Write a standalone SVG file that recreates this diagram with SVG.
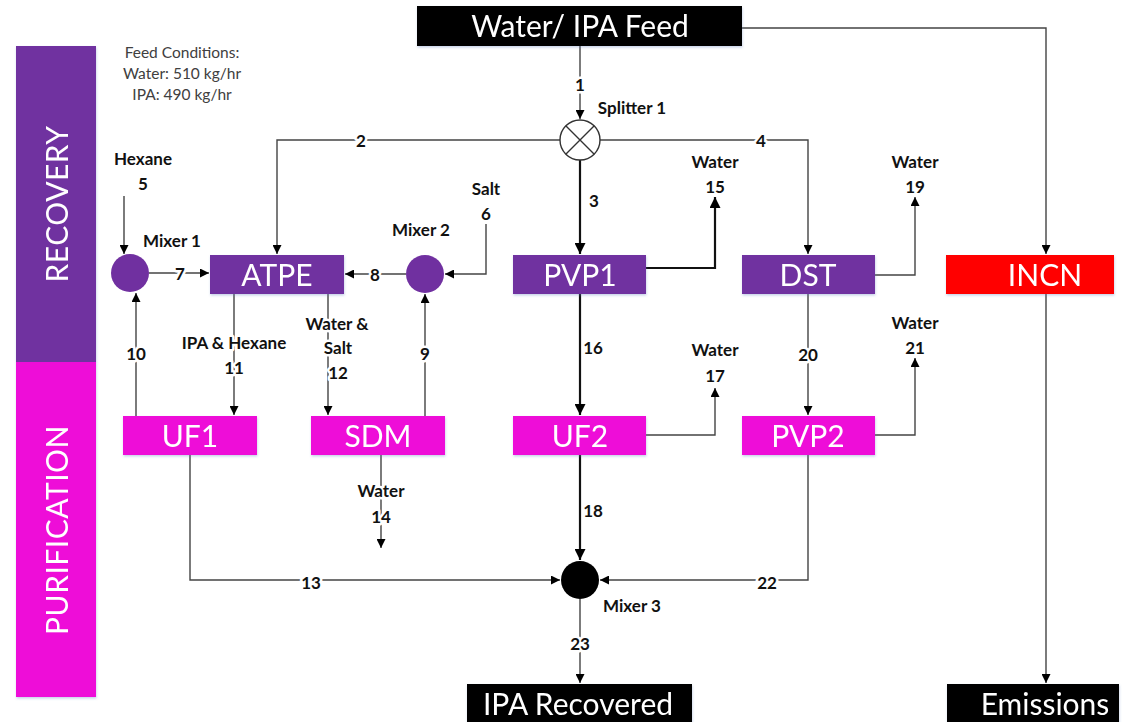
<svg xmlns="http://www.w3.org/2000/svg" width="1134" height="722" viewBox="0 0 1134 722">
  <defs>
    <marker id="arr" viewBox="0 0 10 10" refX="10" refY="5" markerWidth="9" markerHeight="9" markerUnits="userSpaceOnUse" orient="auto">
      <path d="M0,0 L10,5 L0,10 z" fill="#000"/>
    </marker>
    <marker id="arrB" viewBox="0 0 10 10" refX="10" refY="5" markerWidth="11" markerHeight="11" markerUnits="userSpaceOnUse" orient="auto">
      <path d="M0,0 L10,5 L0,10 z" fill="#000"/>
    </marker>
    <filter id="sh" x="-10%" y="-20%" width="120%" height="150%">
      <feDropShadow dx="0.5" dy="1.5" stdDeviation="1.2" flood-color="#6080c0" flood-opacity="0.35"/>
    </filter>
  </defs>
  <style>
    .lane { filter: url(#sh); }
    .rec { fill: #7030A0; }
    .pur { fill: #EE10D8; }
    .blk { fill: #000; }
    .red { fill: #FF0000; }
    .box { filter: url(#sh); }
    .nt { font-family: Lato, "Open Sans", sans-serif; fill: #fff; font-size: 30px; text-anchor: middle; dominant-baseline: central; }
    .lt { font-family: Lato, "Open Sans", sans-serif; fill: #fff; font-size: 30px; text-anchor: middle; dominant-baseline: central; letter-spacing: 0.5px; }
    .lbl { font-family: Lato, "Liberation Sans", sans-serif; font-weight: bold; font-size: 17px; fill: #111; text-anchor: middle; dominant-baseline: central; }
    .onl { paint-order: stroke; stroke: #fff; stroke-width: 5px; stroke-linejoin: round; }
    .note { font-family: Lato, "Liberation Sans", sans-serif; font-size: 15.5px; fill: #404040; text-anchor: middle; dominant-baseline: central; }
    .ln { fill: none; stroke: #444; stroke-width: 1.4; }
    .lnB { fill: none; stroke: #111; stroke-width: 2.2; }
    .mix { fill: #7030A0; }
  </style>

  <!-- lane bands -->
  <g id="lane-recovery" class="lane">
    <rect class="rec" x="16" y="46" width="80" height="316"/>
    <text class="lt" transform="translate(56,204) rotate(-90)">RECOVERY</text>
  </g>
  <g id="lane-purification" class="lane">
    <rect class="pur" x="16" y="362" width="80" height="335"/>
    <text class="lt" transform="translate(56,530) rotate(-90)">PURIFICATION</text>
  </g>

  <text class="note" x="182" y="52">Feed Conditions:</text>
  <text class="note" x="182" y="73">Water: 510 kg/hr</text>
  <text class="note" x="182" y="94">IPA: 490 kg/hr</text>

  <!-- connectors -->
  <g id="connectors">
    <!-- 1 -->
    <path class="ln" d="M580,46 V119" marker-end="url(#arr)"/>
    <!-- 2 -->
    <path class="ln" d="M560,140 H277 V254" marker-end="url(#arr)"/>
    <!-- 3 -->
    <path class="lnB" d="M580,160 V254" marker-end="url(#arrB)"/>
    <!-- 4 -->
    <path class="ln" d="M600,140 H808 V254" marker-end="url(#arr)"/>
    <!-- feed to incineration -->
    <path class="ln" d="M742,28 H1046 V254" marker-end="url(#arr)"/>
    <!-- 5 -->
    <path class="ln" d="M124,196 V254" marker-end="url(#arr)"/>
    <!-- 6 -->
    <path class="ln" d="M486,224 V274 H445" marker-end="url(#arr)"/>
    <!-- 7 -->
    <path class="ln" d="M149,273 H209" marker-end="url(#arr)"/>
    <!-- 8 -->
    <path class="ln" d="M406,274 H345" marker-end="url(#arr)"/>
    <!-- 9 -->
    <path class="ln" d="M425,416 V294" marker-end="url(#arr)"/>
    <!-- 10 -->
    <path class="ln" d="M136,416 V293" marker-end="url(#arr)"/>
    <!-- 11 -->
    <path class="ln" d="M234,294 V415" marker-end="url(#arr)"/>
    <!-- 12 -->
    <path class="ln" d="M328,294 V415" marker-end="url(#arr)"/>
    <!-- 13 -->
    <path class="ln" d="M190,455 V580 H560" marker-end="url(#arr)"/>
    <!-- 14 -->
    <path class="ln" d="M381,455 V548" marker-end="url(#arr)"/>
    <!-- 15 -->
    <path class="lnB" d="M646,268 H715 V197" marker-end="url(#arrB)"/>
    <!-- 16 -->
    <path class="lnB" d="M580,294 V415" marker-end="url(#arrB)"/>
    <!-- 17 -->
    <path class="ln" d="M646,435 H715 V388" marker-end="url(#arr)"/>
    <!-- 18 -->
    <path class="lnB" d="M580,455 V560" marker-end="url(#arrB)"/>
    <!-- 19 -->
    <path class="ln" d="M875,275 H915 V197" marker-end="url(#arr)"/>
    <!-- 20 -->
    <path class="ln" d="M808,294 V415" marker-end="url(#arr)"/>
    <!-- 21 -->
    <path class="ln" d="M875,435 H915 V358" marker-end="url(#arr)"/>
    <!-- 22 -->
    <path class="ln" d="M808,455 V580 H600" marker-end="url(#arr)"/>
    <!-- 23 -->
    <path class="ln" d="M580,599 V683" marker-end="url(#arr)"/>
    <!-- incineration to emissions -->
    <path class="ln" d="M1046,294 V683" marker-end="url(#arr)"/>

    <!-- stream labels -->
    <text class="lbl onl" x="580" y="84">1</text>
    <text class="lbl onl" x="361" y="140">2</text>
    <text class="lbl" x="594" y="200">3</text>
    <text class="lbl onl" x="761" y="140">4</text>
    <text class="lbl" x="143" y="158">Hexane</text>
    <text class="lbl" x="143" y="183">5</text>
    <text class="lbl" x="486" y="188">Salt</text>
    <text class="lbl" x="486" y="213">6</text>
    <text class="lbl onl" x="180" y="273">7</text>
    <text class="lbl onl" x="375" y="274">8</text>
    <text class="lbl onl" x="425" y="353">9</text>
    <text class="lbl onl" x="136" y="353">10</text>
    <text class="lbl onl" x="234" y="342">IPA &amp; Hexane</text>
    <text class="lbl onl" x="234" y="367">11</text>
    <text class="lbl onl" x="337" y="323">Water &amp;</text>
    <text class="lbl onl" x="338" y="347">Salt</text>
    <text class="lbl onl" x="338" y="372">12</text>
    <text class="lbl onl" x="311" y="582">13</text>
    <text class="lbl onl" x="381" y="490">Water</text>
    <text class="lbl onl" x="381" y="516">14</text>
    <text class="lbl" x="715" y="161">Water</text>
    <text class="lbl" x="715" y="186">15</text>
    <text class="lbl" x="593" y="347">16</text>
    <text class="lbl" x="715" y="349">Water</text>
    <text class="lbl" x="715" y="375">17</text>
    <text class="lbl" x="593" y="510">18</text>
    <text class="lbl" x="915" y="161">Water</text>
    <text class="lbl" x="915" y="186">19</text>
    <text class="lbl onl" x="808" y="354">20</text>
    <text class="lbl" x="915" y="322">Water</text>
    <text class="lbl" x="915" y="347">21</text>
    <text class="lbl onl" x="767" y="582">22</text>
    <text class="lbl onl" x="580" y="643">23</text>
  </g>

  <!-- splitter and mixers -->
  <g id="splitter1">
    <circle cx="580" cy="140" r="20" fill="#fff" stroke="#333" stroke-width="1.4"/>
    <path d="M566,126 L594,154 M594,126 L566,154" stroke="#333" stroke-width="1.4"/>
    <text class="lbl" x="632" y="107">Splitter 1</text>
  </g>
  <g id="mixer1">
    <circle class="mix" cx="130" cy="273" r="19"/>
    <text class="lbl" x="172" y="240">Mixer 1</text>
  </g>
  <g id="mixer2">
    <circle class="mix" cx="425" cy="274" r="19"/>
    <text class="lbl" x="421" y="229">Mixer 2</text>
  </g>
  <g id="mixer3">
    <circle cx="580" cy="580" r="19" fill="#000"/>
    <text class="lbl" x="632" y="605">Mixer 3</text>
  </g>

  <!-- unit operations -->
  <g id="feed" class="box">
    <rect class="blk" x="417" y="6" width="325" height="40"/>
    <text class="nt" x="580" y="25" font-size="36">Water/ IPA Feed</text>
  </g>
  <g id="atpe" class="box">
    <rect class="rec" x="210" y="255" width="134" height="39"/>
    <text class="nt" x="277" y="274">ATPE</text>
  </g>
  <g id="pvp1" class="box">
    <rect class="rec" x="513" y="255" width="133" height="39"/>
    <text class="nt" x="580" y="274">PVP1</text>
  </g>
  <g id="dst" class="box">
    <rect class="rec" x="742" y="255" width="133" height="39"/>
    <text class="nt" x="808" y="274">DST</text>
  </g>
  <g id="incn" class="box">
    <rect class="red" x="946" y="255" width="168" height="39"/>
    <text class="nt" x="1045" y="274">INCN</text>
  </g>
  <g id="uf1" class="box">
    <rect class="pur" x="123" y="416" width="134" height="39"/>
    <text class="nt" x="190" y="435">UF1</text>
  </g>
  <g id="sdm" class="box">
    <rect class="pur" x="311" y="416" width="134" height="39"/>
    <text class="nt" x="378" y="435">SDM</text>
  </g>
  <g id="uf2" class="box">
    <rect class="pur" x="513" y="416" width="133" height="39"/>
    <text class="nt" x="580" y="435">UF2</text>
  </g>
  <g id="pvp2" class="box">
    <rect class="pur" x="742" y="416" width="133" height="39"/>
    <text class="nt" x="808" y="435">PVP2</text>
  </g>
  <g id="ipa-recovered" class="box">
    <rect class="blk" x="467" y="684" width="225" height="40"/>
    <text class="nt" x="578" y="703" font-size="33">IPA Recovered</text>
  </g>
  <g id="emissions" class="box">
    <rect class="blk" x="947" y="684" width="172" height="40"/>
    <text class="nt" x="1045" y="703" font-size="33">Emissions</text>
  </g>
</svg>
